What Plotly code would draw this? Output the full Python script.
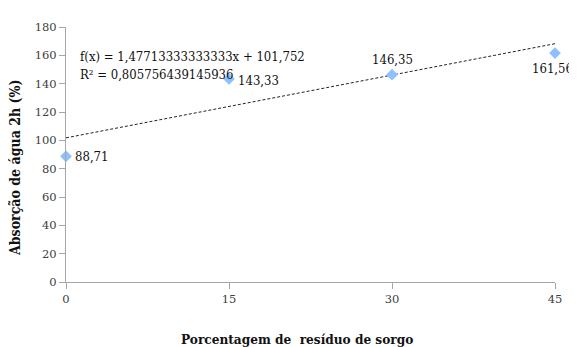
import plotly.graph_objects as go

x_vals = [0, 15, 30, 45]
y_vals = [88.71, 143.33, 146.35, 161.56]
x_ticks = [0, 15, 30, 45]
y_ticks = [0, 20, 40, 60, 80, 100, 120, 140, 160, 180]
slope = 1.47713333333333
intercept = 101.752
r2 = 0.805756439145936

labels = [f"{v:.2f}".replace(".", ",") for v in y_vals]
# label placement per point: (xanchor, yanchor, xshift, yshift)
label_style = [("left", "middle", 7, 0), ("left", "middle", 7, -2),
               ("center", "bottom", 0, 6), ("right", "top", 20, -6)]
FONT = "DejaVu Serif Condensed"
FONT_T = "DejaVu Serif"

fig = go.Figure()
trend_x = [x_ticks[0], x_ticks[-1]]
trend_y = [intercept + slope * xv for xv in trend_x]
fig.add_trace(go.Scatter(x=trend_x, y=trend_y, mode="lines",
                         line=dict(color="#222222", width=1, dash="3px,2px"),
                         hoverinfo="skip", cliponaxis=False))
fig.add_trace(go.Scatter(x=x_vals, y=y_vals, mode="markers",
                         marker=dict(symbol="diamond", size=9, color="#8cc0ff"),
                         cliponaxis=False))
for xv, yv, lab, (xa, ya, xs, ys) in zip(x_vals, y_vals, labels, label_style):
    fig.add_annotation(xref="x", yref="y", x=xv, y=yv, text=lab, showarrow=False,
                       xanchor=xa, yanchor=ya, xshift=xs, yshift=ys,
                       font=dict(family=FONT, size=13, color="#111111"))

fig.add_annotation(xref="x", yref="y", x=1.1, y=159.5, xanchor="left", yanchor="middle",
                   showarrow=False, align="left",
                   text=f"f(x) = {slope:.14f}x + {intercept:g}".replace(".", ","),
                   font=dict(family=FONT, size=13, color="#111111"))
fig.add_annotation(xref="x", yref="y", x=1.1, y=146.5, xanchor="left", yanchor="middle",
                   showarrow=False, align="left",
                   text=f"R² = {r2:.15f}".replace(".", ","),
                   font=dict(family=FONT, size=13, color="#111111"))

fig.add_annotation(xref="paper", yref="paper", x=0.472, y=0, yshift=-57,
                   xanchor="center", yanchor="middle",
                   showarrow=False, text="<b>Porcentagem de  resíduo de sorgo</b>",
                   font=dict(family=FONT, size=13.5, color="#111111"))
fig.add_annotation(xref="paper", yref="paper", x=0, xshift=-51, y=0.447,
                   xanchor="center", yanchor="middle",
                   showarrow=False, textangle=-90, text="<b>Absorção de água 2h (%)</b>",
                   font=dict(family=FONT, size=14, color="#111111"))

# page body has an 8px margin, so the figure is sized to end at the window edge
fig.update_layout(
    width=569, height=339,
    margin=dict(l=58, r=22, t=12, b=65),
    paper_bgcolor="white", plot_bgcolor="white",
    showlegend=False,
    font=dict(family=FONT, size=12, color="#404040"),
)
fig.update_xaxes(range=[0, 45], tickvals=x_ticks, showgrid=False, zeroline=False,
                 showline=True, linecolor="#a6a6a6", linewidth=1,
                 ticks="outside", ticklen=6, tickcolor="#a6a6a6",
                 tickfont=dict(family=FONT_T, size=11.5, color="#404040"))
fig.update_yaxes(range=[0, 180], tickvals=y_ticks, showgrid=False, zeroline=False,
                 showline=True, linecolor="#a6a6a6", linewidth=1,
                 ticks="outside", ticklen=6, tickcolor="#a6a6a6",
                 tickfont=dict(family=FONT_T, size=11.5, color="#404040"))

fig.write_html("out.html")
